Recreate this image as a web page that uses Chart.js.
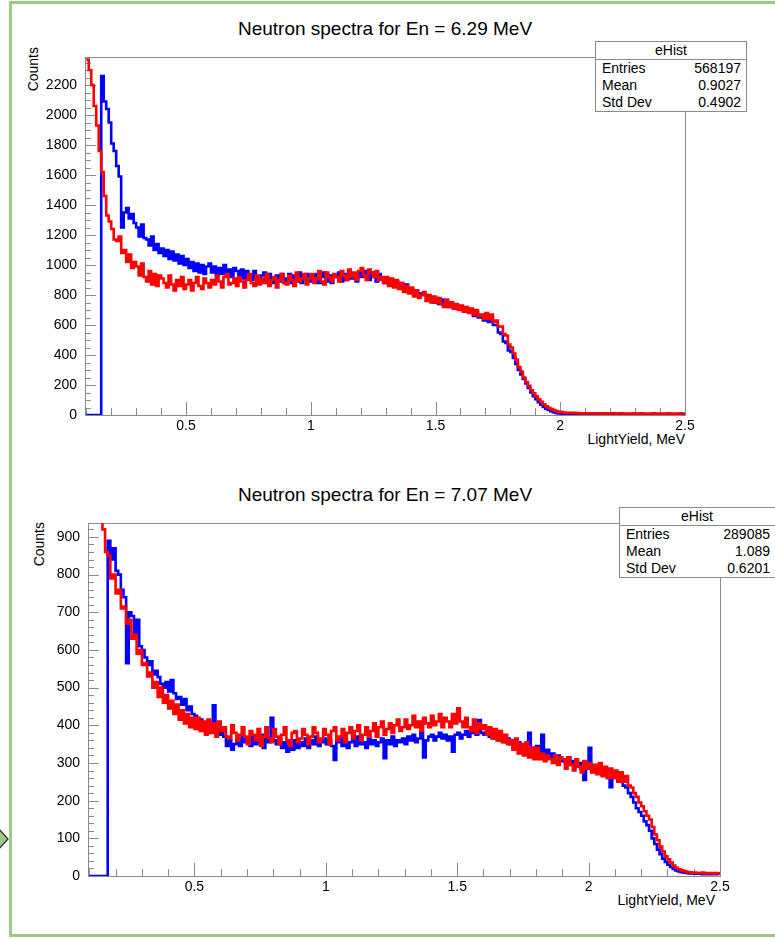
<!DOCTYPE html>
<html>
<head>
<meta charset="utf-8">
<script src="https://cdn.jsdelivr.net/npm/chart.js@4.4.1/dist/chart.umd.min.js"></script>
<style>
  html, body { margin: 0; padding: 0; background: #fff; }
  body { width: 775px; height: 939px; position: relative; overflow: hidden;
         font-family: "Liberation Sans", Arial, sans-serif; color: #000; }
  .frame { position: absolute; left: 9px; top: 1px; width: 800px; height: 930px;
           border: 3px solid #9dcb84; border-right: none; }
  .pad { position: absolute; left: 0; }
  .title { position: absolute; font-size: 19px; line-height: 19px; white-space: nowrap;
           transform: translateX(-50%); }
  .ytitle { position: absolute; font-size: 14px; line-height: 14px; writing-mode: vertical-rl;
            transform: rotate(180deg); white-space: nowrap; }
  .xtitle { position: absolute; font-size: 14px; line-height: 14px; white-space: nowrap;
            transform: translateX(-100%); }
  .stats { position: absolute; background: #fff; border: 1px solid #8a8a8a; font-size: 14px; }
  .stats .hd { text-align: center; height: 17px; line-height: 17px; border-bottom: 1px solid #8a8a8a; }
  .stats .row { display: flex; justify-content: space-between; height: 17px; line-height: 17px;
                padding: 0 5px 0 6px; }
</style>
</head>
<body>
<div class="frame"></div>
<svg style="position:absolute;left:0;top:826px" width="10" height="26">
  <polygon points="-3,1 8,13 -3,25" fill="#9dcb84" stroke="#333" stroke-width="1.3"/>
</svg>

<div class="title" style="left:385px;top:19px">Neutron spectra for En = 6.29 MeV</div>
<div class="ytitle" style="left:26px;top:47px">Counts</div>
<div class="xtitle" style="left:685px;top:432px">LightYield, MeV</div>
<div class="pad" style="top:0"><canvas id="c1" width="775" height="470"></canvas></div>
<div class="stats" style="left:595px;top:41px;width:150px">
  <div class="hd">eHist</div>
  <div class="row"><span>Entries</span><span>568197</span></div>
  <div class="row"><span>Mean</span><span>0.9027</span></div>
  <div class="row"><span>Std Dev</span><span>0.4902</span></div>
</div>

<div class="title" style="left:385px;top:485px">Neutron spectra for En = 7.07 MeV</div>
<div class="ytitle" style="left:32px;top:522px">Counts</div>
<div class="xtitle" style="left:715px;top:893px">LightYield, MeV</div>
<div class="pad" style="top:470px"><canvas id="c2" width="775" height="469"></canvas></div>
<div class="stats" style="left:619px;top:507px;width:170px">
  <div class="hd" style="padding-right:16px">eHist</div>
  <div class="row" style="padding-right:20px"><span>Entries</span><span>289085</span></div>
  <div class="row" style="padding-right:20px"><span>Mean</span><span>1.089</span></div>
  <div class="row" style="padding-right:20px"><span>Std Dev</span><span>0.6201</span></div>
</div>

<script>
// histogram binning: bins of 0.01 MeV starting at 0.10 MeV
const binStart = 0.10;
const binWidth = 0.01;

const xTicks = [0.5, 1, 1.5, 2, 2.5];
const yTicks1 = [0, 200, 400, 600, 800, 1000, 1200, 1400, 1600, 1800, 2000, 2200];
const yTicks2 = [0, 100, 200, 300, 400, 500, 600, 700, 800, 900];

// En = 6.29 MeV
const red1 = [
  2370, 2300, 2200, 2060, 1930, 1760, 1620, 1460, 1330, 1290,
  1240, 1170, 1160, 1190, 1080, 1100, 1020, 1070, 980, 1020,
  990, 930, 1010, 920, 890, 960, 870, 940, 860, 930,
  910, 880, 850, 930, 870, 830, 900, 860, 920, 840,
  870, 900, 830, 880, 920, 860, 840, 910, 880, 850,
  900, 870, 930, 890, 850, 920, 940, 870, 880, 910,
  860, 920, 890, 850, 900, 940, 880, 860, 930, 870,
  910, 880, 940, 860, 900, 920, 850, 900, 940, 880,
  870, 930, 900, 860, 950, 890, 910, 940, 870, 910,
  940, 880, 910, 960, 890, 870, 950, 920, 890, 940,
  920, 890, 960, 930, 900, 970, 920, 950, 900, 960,
  980, 930, 900, 970, 950, 920, 960, 900, 920, 880,
  920, 860, 910, 850, 900, 840, 880, 820, 860, 810,
  850, 790, 830, 780, 800, 820, 760, 800, 750, 790,
  750, 780, 740, 720, 770, 720, 750, 710, 740, 700,
  730, 690, 720, 680, 710, 670, 700, 660, 670, 640,
  680, 640, 670, 620, 630, 590, 590, 540, 530, 470,
  450, 410, 370, 320, 290, 250, 220, 195, 165, 145,
  125, 105, 88, 72, 58, 48, 40, 33, 27, 22,
  19, 17, 15, 14, 13, 14, 12, 13, 11, 12,
  11, 12, 10, 11, 12, 10, 11, 9, 11, 10,
  10, 11, 9, 10, 11, 9, 10, 10, 9, 11,
  9, 10, 11, 9, 10, 9, 10, 11, 9, 10,
  10, 9, 10, 11, 9, 10, 9, 10, 11, 10
];
const blue1 = [
  0, 0, 0, 0, 0, 0, 2260, 2090, 2040, 1950,
  1810, 1760, 1660, 1590, 1250, 1350, 1380, 1310, 1340, 1280,
  1250, 1190, 1270, 1180, 1170, 1130, 1190, 1100, 1140, 1080,
  1110, 1060, 1100, 1040, 1090, 1030, 1070, 1010, 1060, 1000,
  1040, 980, 1020, 960, 1010, 950, 1000, 940, 990, 1010,
  950, 990, 930, 980, 940, 1000, 930, 970, 920, 980,
  960, 920, 970, 910, 960, 930, 900, 960, 920, 900,
  930, 950, 890, 940, 900, 880, 930, 890, 940, 880,
  910, 940, 880, 930, 890, 950, 880, 920, 940, 890,
  930, 890, 940, 880, 920, 950, 890, 930, 880, 920,
  930, 950, 890, 940, 900, 960, 910, 940, 890, 950,
  920, 960, 930, 900, 950, 920, 890, 940, 910, 880,
  910, 870, 900, 860, 890, 850, 880, 840, 870, 830,
  840, 830, 830, 800, 810, 800, 800, 770, 780, 750,
  780, 740, 770, 730, 760, 720, 750, 710, 720, 710,
  720, 690, 700, 690, 690, 660, 690, 650, 660, 630,
  660, 620, 650, 600, 600, 550, 540, 490, 480, 430,
  420, 380, 340, 300, 270, 240, 210, 180, 150, 125,
  105, 85, 68, 54, 42, 33, 25, 19, 14, 11,
  9, 8, 7, 6, 6, 5, 5, 4, 5, 4,
  4, 5, 4, 3, 4, 4, 3, 4, 3, 4,
  3, 4, 3, 4, 3, 3, 4, 3, 4, 3,
  4, 3, 3, 4, 3, 4, 3, 3, 4, 3,
  3, 4, 3, 3, 4, 3, 4, 3, 3, 4
];

// En = 7.07 MeV
const red2 = [
  1080, 1040, 1000, 965, 945, 920, 860, 850, 790, 800,
  750, 760, 710, 715, 670, 680, 630, 640, 590, 600,
  560, 565, 530, 540, 500, 515, 475, 500, 460, 480,
  445, 465, 430, 455, 415, 440, 405, 430, 395, 420,
  390, 420, 385, 410, 375, 415, 380, 405, 370, 410,
  385, 395, 370, 365, 400, 380, 360, 375, 395, 370,
  350, 385, 375, 360, 390, 345, 370, 395, 365, 355,
  390, 370, 350, 375, 395, 360, 345, 380, 385, 355,
  365, 390, 375, 350, 370, 395, 380, 355, 365, 390,
  375, 350, 385, 395, 360, 370, 390, 355, 380, 395,
  365, 385, 400, 360, 375, 395, 370, 385, 405, 370,
  395, 410, 375, 390, 405, 380, 400, 415, 385, 395,
  415, 390, 400, 425, 395, 410, 385, 420, 405, 395,
  425, 400, 410, 430, 395, 420, 410, 395, 430, 405,
  445, 410, 395, 420, 395, 385, 415, 380, 405, 390,
  400, 375, 395, 365, 390, 360, 385, 355, 375, 350,
  360, 335, 365, 325, 350, 320, 355, 315, 340, 310,
  340, 310, 325, 305, 320, 310, 300, 320, 295, 315,
  310, 285, 315, 295, 280, 310, 290, 275, 305, 285,
  300, 275, 295, 270, 300, 265, 290, 260, 285, 260,
  280, 250, 275, 250, 265, 240, 235, 220, 210, 195,
  185, 172, 160, 150, 130, 110, 95, 78, 65, 52,
  44, 36, 28, 22, 18, 15, 13, 11, 10, 9,
  9, 8, 8, 9, 7, 8, 8, 7, 8, 7
];
const blue2 = [
  0, 0, 0, 0, 0, 0, 0, 890, 840, 870,
  810, 800, 760, 740, 565, 700, 690, 640, 680, 610,
  600, 580, 560, 570, 535, 545, 528, 510, 500, 515,
  490, 520, 485, 470, 475, 455, 470, 440, 450, 430,
  425, 410, 415, 395, 405, 380, 400, 453, 390, 375,
  380, 370, 345, 360, 335, 350, 365, 345, 370, 355,
  365, 345, 370, 350, 360, 375, 340, 365, 355, 420,
  360, 350, 365, 340, 355, 330, 345, 335, 360, 340,
  355, 345, 365, 340, 360, 350, 370, 345, 355, 365,
  350, 360, 345, 308, 355, 365, 345, 360, 340, 355,
  360, 345, 370, 350, 355, 340, 365, 350, 360, 345,
  355, 365, 313, 360, 350, 370, 345, 360, 355, 365,
  350, 370, 360, 375, 355, 365, 380, 315, 360, 370,
  375, 360, 370, 380, 365, 375, 360, 370, 330, 375,
  380, 365, 375, 385, 370, 380, 390, 375, 414, 380,
  375, 385, 370, 380, 365, 375, 360, 370, 355, 365,
  350, 360, 340, 355, 345, 335, 350, 380, 340, 330,
  345, 330, 375, 320, 335, 315, 325, 310, 320, 305,
  310, 300, 315, 295, 305, 290, 300, 285, 255, 300,
  340, 290, 285, 275, 290, 270, 280, 260, 236, 265,
  260, 250, 255, 240, 235, 220, 210, 195, 180, 170,
  160, 145, 135, 120, 100, 85, 70, 58, 46, 37,
  30, 24, 19, 15, 12, 10, 9, 8, 7, 7,
  6, 7, 6, 5, 6, 5, 6, 5, 5, 6
];

// turn bin contents into step points (left edge of each bin + closing edge)
function binsToPoints(values) {
  const pts = values.map((v, i) => ({ x: +(binStart + i * binWidth).toFixed(3), y: v }));
  pts.push({ x: +(binStart + values.length * binWidth).toFixed(3), y: values[values.length - 1] });
  return pts;
}

// ROOT-like frame with inward major/minor ticks
const rootFrame = {
  id: 'rootFrame',
  beforeDatasetsDraw(chart, args, opts) {
    const { ctx, chartArea: a, scales: { x, y } } = chart;
    ctx.save();
    ctx.strokeStyle = '#8a8a8a';
    ctx.lineWidth = 1;
    ctx.strokeRect(a.left + 0.5, a.top + 0.5, a.right - a.left, a.bottom - a.top);
    ctx.beginPath();
    for (let k = Math.ceil(x.min / opts.xMinor - 1e-6); k * opts.xMinor <= x.max + 1e-9; k++) {
      const v = k * opts.xMinor;
      const major = Math.abs(v / opts.xMajor - Math.round(v / opts.xMajor)) < 1e-6;
      const px = Math.round(x.getPixelForValue(v)) + 0.5;
      ctx.moveTo(px, a.bottom);
      ctx.lineTo(px, a.bottom - (major ? 13 : 7));
    }
    for (let k = 0; k * opts.yMinor <= y.max + 1e-9; k++) {
      const v = k * opts.yMinor;
      const major = v % opts.yMajor === 0;
      const py = Math.round(y.getPixelForValue(v)) + 0.5;
      ctx.moveTo(a.left, py);
      ctx.lineTo(a.left + (major ? 11 : 6), py);
    }
    ctx.stroke();
    ctx.restore();
  }
};

function makeChart(id, red, blue, yMax, yTicks, area, minor) {
  const c = document.getElementById(id);
  return new Chart(c.getContext('2d'), {
    type: 'line',
    data: {
      datasets: [
        { label: 'red', data: binsToPoints(red), borderColor: 'rgb(255,0,0)', order: 0 },
        { label: 'blue', data: binsToPoints(blue), borderColor: 'rgb(0,0,255)', order: 1 }
      ]
    },
    options: {
      responsive: false,
      animation: false,
      datasets: {
        line: { stepped: 'before', borderWidth: 2.6, pointRadius: 0, tension: 0,
                borderJoinStyle: 'miter', borderCapStyle: 'butt', fill: false }
      },
      layout: { padding: { left: 0, top: area.top, right: c.width - area.right, bottom: 0 } },
      plugins: {
        legend: { display: false },
        tooltip: { enabled: false },
        rootFrame: minor
      },
      scales: {
        x: {
          type: 'linear', min: 0.095, max: 2.5,
          grid: { display: false, drawTicks: false }, border: { display: false },
          afterBuildTicks: s => { s.ticks = xTicks.map(v => ({ value: v })); },
          afterFit: s => { s.height = c.height - area.bottom; },
          ticks: { autoSkip: false, maxRotation: 0, padding: 3, color: '#000',
                   font: { family: 'Liberation Sans', size: 14 }, callback: v => String(v) }
        },
        y: {
          min: 0, max: yMax,
          grid: { display: false, drawTicks: false }, border: { display: false },
          afterBuildTicks: s => { s.ticks = yTicks.map(v => ({ value: v })); },
          afterFit: s => { s.width = area.left; },
          ticks: { autoSkip: false, padding: 8, color: '#000',
                   font: { family: 'Liberation Sans', size: 14 }, callback: v => String(v) }
        }
      }
    },
    plugins: [rootFrame]
  });
}

makeChart('c1', red1, blue1, 2387, yTicks1,
  { left: 85, right: 685, top: 57, bottom: 415 },
  { xMinor: 0.1, xMajor: 0.5, yMinor: 50, yMajor: 200 });
makeChart('c2', red2, blue2, 937, yTicks2,
  { left: 88, right: 720, top: 53, bottom: 406 },
  { xMinor: 0.1, xMajor: 0.5, yMinor: 20, yMajor: 100 });
</script>
</body>
</html>
